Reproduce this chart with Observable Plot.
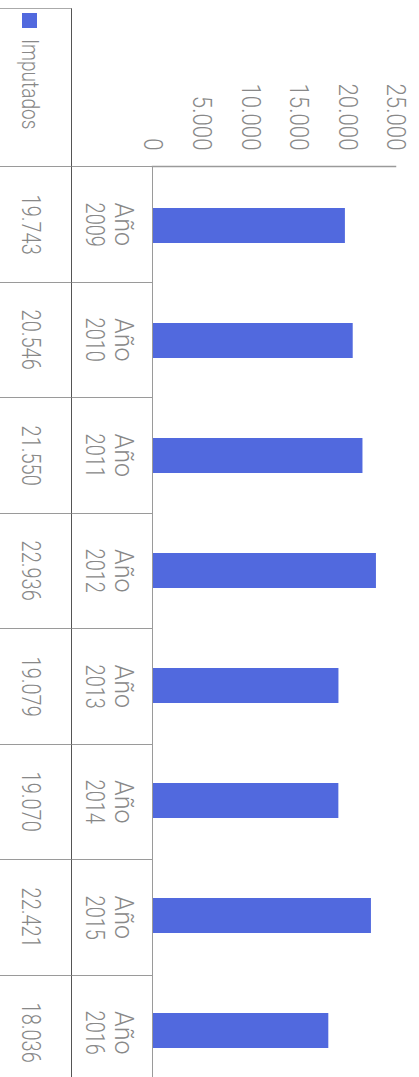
<!DOCTYPE html>
<html>
<head>
<meta charset="utf-8">
<script src="https://cdn.jsdelivr.net/npm/d3@7"></script>
<script src="https://cdn.jsdelivr.net/npm/@observablehq/plot@0.6"></script>
<style>
  html, body { margin: 0; padding: 0; background: #fff; overflow: hidden; width: 419px; height: 1077px; }
  #rot { position: absolute; left: 419px; top: 0; width: 1090px; height: 419px;
         transform-origin: 0 0; transform: rotate(90deg); background: #fff;
         font-family: Roboto, sans-serif; font-weight: 300; color: #888; }
  #chart { position: relative; z-index: 2; height: 266px; }
  #rot svg { display: block; overflow: visible; }
  #tbl { display: grid; grid-template-columns: 8px 158px repeat(8, 115.5px); grid-template-rows: 81px 72px; }
  #tbl > div { box-sizing: border-box; }
  .cat { border-top: 1.5px solid #9a9a9a; border-left: 1.5px solid #9a9a9a; text-align: center;
         font-size: 25px; line-height: 29px; padding-top: 14px; }
  .val { border-top: 1.5px solid #555; border-left: 1.5px solid #9a9a9a; text-align: center;
         font-size: 25px; line-height: 29px; padding-top: 26px; }
  .leg { border-top: 1.5px solid #555; border-left: 1.5px solid #aaa; font-size: 23px;
         display: flex; align-items: center; padding-left: 4px; padding-top: 12px; }
  .sw { width: 15px; height: 15px; background: #5169de; margin-right: 11px; flex: none; }
  .nar { display: inline-block; transform: scaleX(0.8); }
  .leg .nar { transform: scaleX(0.83); transform-origin: left center; }
</style>
</head>
<body>
<div id="rot"><div id="chart"></div><div id="tbl"></div></div>
<script>
const years = ["2009", "2010", "2011", "2012", "2013", "2014", "2015", "2016"];
const categoryPrefix = "Año";
const seriesName = "Imputados";
const imputados = [19743, 20546, 21550, 22936, 19079, 19070, 22421, 18036];
const valueTicks = [0, 5000, 10000, 15000, 20000, 25000];
const barColor = "#5169de";

const esFormat = d3.formatLocale({decimal: ",", thousands: ".", grouping: [3], currency: ["", "€"]}).format(",");
const data = years.map((y, i) => ({year: y, value: imputados[i]}));

const chart = Plot.plot({
  width: 1090,
  height: 266,
  marginLeft: 166,
  marginRight: 0,
  marginTop: 23,
  marginBottom: 0,
  style: {fontFamily: "Roboto, sans-serif", fontWeight: 300, fontSize: "25px", color: "#888", background: "transparent", overflow: "visible"},
  x: {domain: years, axis: null, paddingInner: 0.697, paddingOuter: 0.3485},
  y: {domain: [0, 25000], axis: null},
  marks: [
    Plot.barY(data, {x: "year", y: "value", fill: barColor}),
    Plot.axisY({ticks: valueTicks, tickFormat: esFormat, tickSize: 0, tickPadding: 16, label: null, fontSize: 25}),
    Plot.frame({anchor: "left", stroke: "#9a9a9a", strokeWidth: 1.5})
  ]
});
// narrow the axis labels to mimic the condensed face of the original
chart.querySelectorAll('g[aria-label="y-axis tick label"] text').forEach(t => {
  t.setAttribute("transform", (t.getAttribute("transform") || "") + " scale(0.89,1)");
});
document.getElementById("chart").appendChild(chart);

const tbl = document.getElementById("tbl");
function cell(cls, html, style) {
  const d = document.createElement("div");
  if (cls) d.className = cls;
  if (html) d.innerHTML = html;
  if (style) d.setAttribute("style", style);
  tbl.appendChild(d);
  return d;
}
// row 1: categories
cell("", "", "grid-column: 1 / span 2; grid-row: 1;");
years.forEach((y, i) => cell("cat", `${categoryPrefix}<br><span class="nar">${y}</span>`, `grid-column:${i + 3}; grid-row:1;`));
// row 2: values
cell("", "", "grid-column: 1; grid-row: 2;");
cell("leg", `<span class="sw"></span><span class="nar">${seriesName}</span>`, "grid-column: 2; grid-row: 2;");
imputados.forEach((v, i) => cell("val", `<span class="nar">${esFormat(v)}</span>`, `grid-column:${i + 3}; grid-row:2;`));
</script>
</body>
</html>
